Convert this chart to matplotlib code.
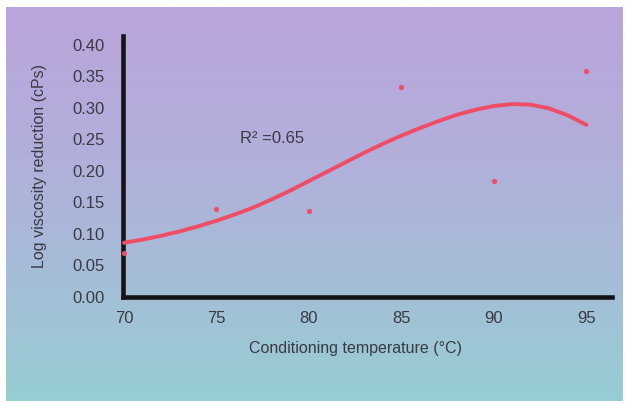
import numpy as np
import matplotlib.pyplot as plt
from matplotlib.colors import LinearSegmentedColormap

plt.rcParams["font.family"] = ["Liberation Sans", "DejaVu Sans"]

# measured points
temp = [70, 75, 80, 85, 90, 95]
log_red = [0.070, 0.140, 0.137, 0.333, 0.184, 0.359]

# trend line
curve_t = [70, 71, 72, 73, 74, 75, 76, 77, 78, 79, 80, 81, 82,
           83, 84, 85, 86, 87, 88, 89, 90, 91, 92, 93, 94, 95]
curve_v = [0.086, 0.091, 0.097, 0.104, 0.112, 0.121, 0.131, 0.142,
           0.155, 0.169, 0.184, 0.199, 0.214, 0.229, 0.243, 0.256,
           0.268, 0.279, 0.289, 0.297, 0.303, 0.306, 0.305, 0.299,
           0.288, 0.273]

x_ticks = [70, 75, 80, 85, 90, 95]
y_ticks = [0.00, 0.05, 0.10, 0.15, 0.20, 0.25, 0.30, 0.35, 0.40]

red = "#f04c66"
txt = "#3a3a44"

fig = plt.figure(figsize=(6.25, 4.03), dpi=100, facecolor="white")

# gradient panel behind the chart
bg = fig.add_axes([6 / 625, 2 / 403, 617 / 625, 394 / 403])
cmap = LinearSegmentedColormap.from_list(
    "bg", ["#96ced2", "#a6bcd8", "#b3aedb", "#baa4dc"])
bg.imshow(np.linspace(0, 1, 256).reshape(-1, 1), aspect="auto",
          cmap=cmap, origin="lower", extent=[0, 1, 0, 1])
bg.set_axis_off()

ax = fig.add_axes([123 / 625, 106 / 403, 489 / 625, 261 / 403])
ax.set_facecolor("none")

ax.plot(curve_t, curve_v, color=red, lw=2.8, solid_capstyle="round",
        solid_joinstyle="round", zorder=5, clip_on=False)
ax.scatter(temp, log_red, s=14, color=red, zorder=6, clip_on=False,
           linewidths=0)

ax.set_xlim(69.95, 96.38)
ax.set_ylim(0, 0.414)
ax.set_xticks(x_ticks)
ax.set_yticks(y_ticks)
ax.set_yticklabels([f"{v:.2f}" for v in y_ticks])

for side in ["top", "right"]:
    ax.spines[side].set_visible(False)
for side in ["left", "bottom"]:
    ax.spines[side].set_linewidth(3.3)
    ax.spines[side].set_color("#141418")
    ax.spines[side].set_capstyle("projecting")

ax.tick_params(axis="both", length=0, labelsize=12, colors=txt)
ax.tick_params(axis="y", pad=13)
ax.tick_params(axis="x", pad=10)

ax.set_xlabel("Conditioning temperature (\u00b0C)", fontsize=11.5,
              color=txt, va="center", ha="center")
ax.xaxis.set_label_coords(0.4755, -0.199)
ax.set_ylabel("Log viscosity reduction (cPs)", fontsize=11.5,
              color=txt, va="center", ha="center")
ax.yaxis.set_label_coords(-0.17, 0.5)

ax.text(76.27, 0.252, "R\u00b2 =0.65", fontsize=12, color=txt,
        va="center", ha="left")

fig.savefig("out.png", dpi=100, facecolor="white")
